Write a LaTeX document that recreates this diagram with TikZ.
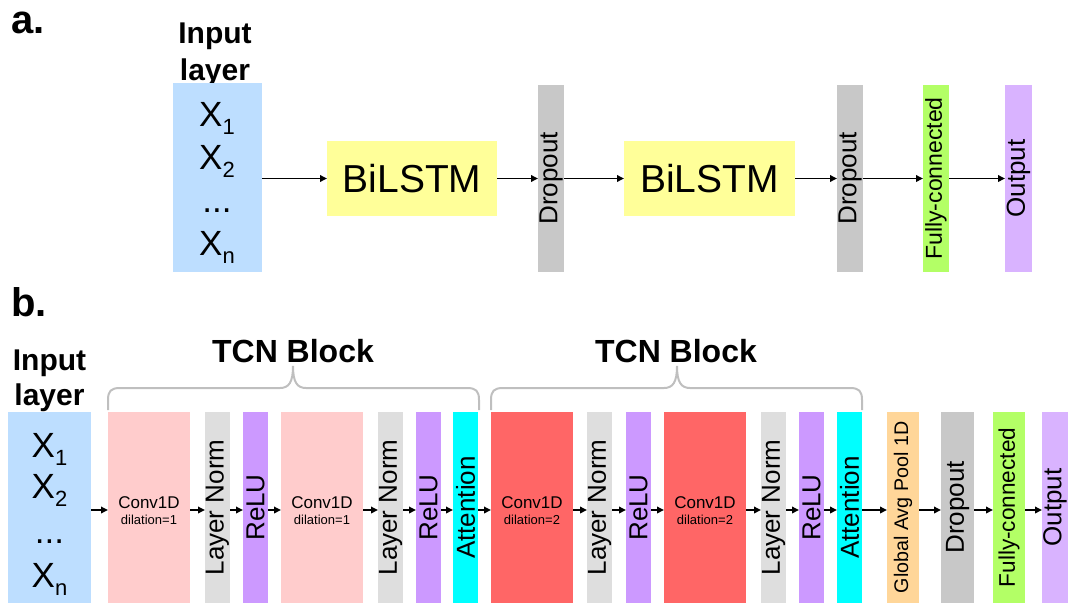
\documentclass[tikz,border=0pt]{standalone}
\usepackage{fontspec}
\setmainfont{Liberation Sans}
\usepackage{graphicx}
\usetikzlibrary{arrows.meta}

\definecolor{inblue}{RGB}{189,222,255}
\definecolor{lstmyellow}{RGB}{255,255,153}
\definecolor{dropgray}{RGB}{200,200,200}
\definecolor{normgray}{RGB}{222,222,222}
\definecolor{fcgreen}{RGB}{179,255,102}
\definecolor{outpurple}{RGB}{217,179,255}
\definecolor{relupurple}{RGB}{204,153,255}
\definecolor{convpink}{RGB}{255,204,204}
\definecolor{convred}{RGB}{255,102,102}
\definecolor{attcyan}{RGB}{0,255,255}
\definecolor{gaporange}{RGB}{255,214,153}
\definecolor{bracegray}{RGB}{191,191,191}

\newcommand{\myfs}[1]{\fontsize{#1}{#1}\selectfont}
\newcommand{\xsub}[1]{\raisebox{-8pt}{\myfs{22}#1}}
\newcommand{\vtext}[2]{\rotatebox{90}{\myfs{#1}#2}}

\begin{document}
\begin{tikzpicture}[x=1pt,y=-1pt,
  box/.style={inner sep=0pt, outer sep=0pt, anchor=north west, draw=none},
  txt/.style={inner sep=0pt, anchor=base},
  arr/.style={-{Triangle[length=7pt,width=6.5pt]}, line width=1.8pt, black},
  bracestyle/.style={draw=bracegray, line width=2pt}]
\useasboundingbox (0,0) rectangle (1068,603);

% ---------- part a ----------
\node[txt, anchor=base west] (la) at (11,33) {\myfs{40}\bfseries a.};
\node[txt] (ina1) at (215,43) {\myfs{30}\bfseries Input};
\node[txt] (ina2) at (215,80) {\myfs{30}\bfseries layer};
\node[box, fill=inblue, minimum width=89pt, minimum height=189pt] (ina) at (173,83) {};
\node[txt] (xa1) at (217,126) {\myfs{35}X\xsub{1}};
\node[txt] (xa2) at (217,169) {\myfs{35}X\xsub{2}};
\node[txt] (xa3) at (217,212) {\myfs{35}...};
\node[txt] (xa4) at (217,255) {\myfs{35}X\xsub{n}};

\node[box, fill=lstmyellow, minimum width=170pt, minimum height=75pt] (lstm1) at (327,141) {\myfs{39}BiLSTM};
\node[box, fill=dropgray, minimum width=26pt, minimum height=187pt] (drop1) at (538,85) {\vtext{26}{Dropout}};
\node[box, fill=lstmyellow, minimum width=171pt, minimum height=75pt] (lstm2) at (624,141) {\myfs{39}BiLSTM};
\node[box, fill=dropgray, minimum width=26pt, minimum height=187pt] (drop2) at (837,85) {\vtext{26}{Dropout}};
\node[box, fill=fcgreen, minimum width=26pt, minimum height=187pt] (fca) at (923,85) {\vtext{23}{Fully-connected}};
\node[box, fill=outpurple, minimum width=27pt, minimum height=187pt] (outa) at (1005,85) {\vtext{26}{Output}};

\draw[arr] (ina.east |- lstm1.west) -- (lstm1.west);
\draw[arr] (lstm1.east) -- (drop1.west |- lstm1.east);
\draw[arr] (drop1.east |- lstm1.east) -- (lstm2.west);
\draw[arr] (lstm2.east) -- (drop2.west |- lstm2.east);
\draw[arr] (drop2.east |- lstm2.east) -- (fca.west |- lstm2.east);
\draw[arr] (fca.east |- lstm2.east) -- (outa.west |- lstm2.east);

% ---------- part b ----------
\node[txt, anchor=base west] (lb) at (11,316) {\myfs{40}\bfseries b.};
\node[txt] (inb1) at (49.5,370) {\myfs{30}\bfseries Input};
\node[txt] (inb2) at (49.5,405) {\myfs{30}\bfseries layer};
\node[txt] (tcn1) at (293,362) {\myfs{32}\bfseries TCN Block};
\node[txt] (tcn2) at (676,362) {\myfs{32}\bfseries TCN Block};

\draw[bracestyle] (108,410) -- (108,400) .. controls (108,391) and (111,388) .. (120,388) -- (280,388)
  .. controls (289,388) and (293,382) .. (293,366) .. controls (293,382) and (297,388) .. (306,388)
  -- (467,388) .. controls (476,388) and (479,391) .. (479,400) -- (479,410);
\draw[bracestyle] (491,410) -- (491,400) .. controls (491,391) and (494,388) .. (503,388) -- (664,388)
  .. controls (673,388) and (677,382) .. (677,366) .. controls (677,382) and (681,388) .. (690,388)
  -- (850,388) .. controls (859,388) and (862,391) .. (862,400) -- (862,410);

\node[box, fill=inblue, minimum width=83pt, minimum height=191pt] (inb) at (8,412) {};
\node[txt] (xb1) at (49.5,457) {\myfs{35}X\xsub{1}};
\node[txt] (xb2) at (49.5,498) {\myfs{35}X\xsub{2}};
\node[txt] (xb3) at (49.5,543) {\myfs{35}...};
\node[txt] (xb4) at (49.5,587) {\myfs{35}X\xsub{n}};

\node[box, fill=convpink, minimum width=82pt, minimum height=191pt] (c1) at (108,412) {};
\node[box, fill=normgray, minimum width=25pt, minimum height=191pt] (ln1) at (205,412) {\vtext{26}{Layer Norm}};
\node[box, fill=relupurple, minimum width=25pt, minimum height=191pt] (r1) at (243,412) {\vtext{26}{ReLU}};
\node[box, fill=convpink, minimum width=82pt, minimum height=191pt] (c2) at (281,412) {};
\node[box, fill=normgray, minimum width=25pt, minimum height=191pt] (ln2) at (378,412) {\vtext{26}{Layer Norm}};
\node[box, fill=relupurple, minimum width=25pt, minimum height=191pt] (r2) at (416,412) {\vtext{26}{ReLU}};
\node[box, fill=attcyan, minimum width=25pt, minimum height=191pt] (at1) at (453,412) {\vtext{26}{Attention}};
\node[box, fill=convred, minimum width=82pt, minimum height=191pt] (c3) at (491,412) {};
\node[box, fill=normgray, minimum width=25pt, minimum height=191pt] (ln3) at (587,412) {\vtext{26}{Layer Norm}};
\node[box, fill=relupurple, minimum width=25pt, minimum height=191pt] (r3) at (626,412) {\vtext{26}{ReLU}};
\node[box, fill=convred, minimum width=82pt, minimum height=191pt] (c4) at (664,412) {};
\node[box, fill=normgray, minimum width=25pt, minimum height=191pt] (ln4) at (761,412) {\vtext{26}{Layer Norm}};
\node[box, fill=relupurple, minimum width=25pt, minimum height=191pt] (r4) at (799,412) {\vtext{26}{ReLU}};
\node[box, fill=attcyan, minimum width=25pt, minimum height=191pt] (at2) at (837,412) {\vtext{26}{Attention}};
\node[box, fill=gaporange, minimum width=32pt, minimum height=191pt] (gap) at (887,412) {\vtext{19.7}{Global Avg Pool 1D}};
\node[box, fill=dropgray, minimum width=33pt, minimum height=191pt] (dropb) at (941,412) {\vtext{26}{Dropout}};
\node[box, fill=fcgreen, minimum width=32pt, minimum height=191pt] (fcb) at (993,412) {\vtext{22.6}{Fully-connected}};
\node[box, fill=outpurple, minimum width=26pt, minimum height=191pt] (outb) at (1042,412) {\vtext{26}{Output}};

\foreach \c/\d in {c1/1,c2/1,c3/2,c4/2}{
  \node[txt] (\c t1) at (\c.center |- 0,508) {\myfs{17}Conv1D};
  \node[txt] (\c t2) at (\c.center |- 0,524) {\myfs{13}dilation=\d};
}

\foreach \a/\b in {inb/c1,c1/ln1,ln1/r1,r1/c2,c2/ln2,ln2/r2,r2/at1,at1/c3,c3/ln3,ln3/r3,r3/c4,c4/ln4,ln4/r4,r4/at2,at2/gap,gap/dropb,dropb/fcb,fcb/outb}
  \draw[arr] ([yshift=-2.5pt]\a.east) -- ([yshift=-2.5pt]\b.west);
\end{tikzpicture}
\end{document}
